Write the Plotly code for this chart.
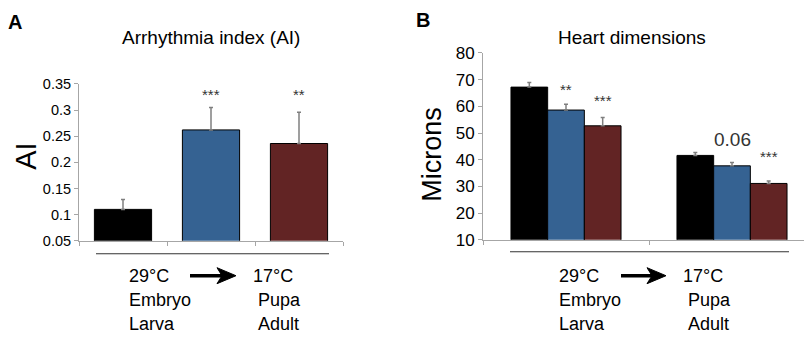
import plotly.graph_objects as go

# ---------------- data ----------------
ai_groups = ["Control", "29-17 A", "29-17 B"]
ai_values = [0.110, 0.262, 0.236]
ai_errors = [0.019, 0.043, 0.060]
ai_stars = ["", "***", "**"]

hd_stages = ["Group 1", "Group 2"]
hd_black = [67.2, 41.6]
hd_black_err = [1.7, 1.1]
hd_blue = [58.6, 37.7]
hd_blue_err = [2.2, 1.2]
hd_red = [52.7, 31.1]
hd_red_err = [3.1, 0.9]
hd_blue_labels = ["**", "0.06"]
hd_red_labels = ["***", "***"]

ai_ticks = [0.05, 0.1, 0.15, 0.2, 0.25, 0.3, 0.35]
ai_ticklabels = ["0.05", "0.1", "0.15", "0.2", "0.25", "0.3", "0.35"]
hd_ticks = [10, 20, 30, 40, 50, 60, 70, 80]

BLACK = "#000000"
BLUE = "#356292"
RED = "#622424"
AXIS = "#a6a6a6"
ERR = "#7f7f7f"
FONT = "Liberation Sans, Arial, sans-serif"

W, H = 804, 339


def px(x):
    return x / W


def py(y):
    ys = (y - 9) / 0.945
    return 1 - ys / H


fig = go.Figure()

bgA = 0.35
bgB = 0.337

# Panel A
fig.add_trace(go.Bar(
    x=list(range(len(ai_values))), y=ai_values, width=1 - bgA,
    marker=dict(color=[BLACK, BLUE, RED], line=dict(color="#000000", width=1)),
    error_y=dict(type="data", array=ai_errors, arrayminus=[0] * 3, symmetric=False,
                 color=ERR, thickness=1.5, width=2),
    xaxis="x", yaxis="y", showlegend=False, hoverinfo="skip"))

# Panel B
for vals, errs, col in [(hd_black, hd_black_err, BLACK), (hd_blue, hd_blue_err, BLUE),
                        (hd_red, hd_red_err, RED)]:
    fig.add_trace(go.Bar(
        x=list(range(len(vals))), y=vals,
        marker=dict(color=col, line=dict(color="#000000", width=1)),
        error_y=dict(type="data", array=errs, arrayminus=[0] * len(errs), symmetric=False,
                     color=ERR, thickness=1.5, width=2),
        xaxis="x2", yaxis="y2", showlegend=False, hoverinfo="skip"))

axis_common = dict(showgrid=False, zeroline=False, showline=True, linecolor=AXIS, linewidth=1,
                   ticks="outside", tickcolor=AXIS, ticklen=4, tickwidth=1)

fig.update_layout(
    width=W, height=H, autosize=False,
    margin=dict(l=0, r=0, t=0, b=0),
    paper_bgcolor="white", plot_bgcolor="white",
    bargap=bgB, barmode="group",
    font=dict(family=FONT, color="#000000"),
    xaxis=dict(domain=[px(79), px(343)], range=[-0.5, 2.5], tickmode="array",
               tickvals=[-0.5, 0.5, 1.5, 2.5], showticklabels=False, anchor="y", **axis_common),
    yaxis=dict(domain=[py(241), py(84)], range=[0.05, 0.35], tickmode="array",
               tickvals=ai_ticks, ticktext=ai_ticklabels, anchor="x",
               tickfont=dict(size=14.5, color="#000000"), **axis_common),
    xaxis2=dict(domain=[px(483), 1.0], range=[-0.5, -0.5 + (W - 483) / 166.0], tickmode="array",
                tickvals=[-0.5, 0.5, 1.5], showticklabels=False, anchor="y2", **axis_common),
    yaxis2=dict(domain=[py(240), py(53)], range=[10, 80], tickmode="array",
                tickvals=hd_ticks, anchor="x2",
                tickfont=dict(size=17, color="#000000"), **axis_common),
)

annotations = []
# stars panel A
for i, s in enumerate(ai_stars):
    if s:
        annotations.append(dict(x=i, y=0.33, xref="x", yref="y", text=s, showarrow=False,
                                font=dict(size=15, color="#333333"), yanchor="middle"))
# labels panel B
bw = (1 - bgB) / 3
hd_blue_y = [66.3, 47.4]
hd_red_y = [62.2, 41.3]
for i, s in enumerate(hd_blue_labels):
    fs = 15 if s.startswith("*") else 19
    annotations.append(dict(x=i, y=hd_blue_y[i], xref="x2", yref="y2", text=s, showarrow=False,
                            font=dict(size=fs, color="#333333"), yanchor="middle"))
for i, s in enumerate(hd_red_labels):
    annotations.append(dict(x=i + bw, y=hd_red_y[i], xref="x2", yref="y2", text=s, showarrow=False,
                            font=dict(size=15, color="#333333"), yanchor="middle"))

# titles, panel letters, axis titles
hdr = [
    dict(x=px(211), y=py(38), text="Arrhythmia index (AI)", font=dict(size=19)),
    dict(x=px(632), y=py(38), text="Heart dimensions", font=dict(size=19)),
    dict(x=px(15), y=py(22), text="<b>A</b>", font=dict(size=20)),
    dict(x=px(423), y=py(20), text="<b>B</b>", font=dict(size=20)),
    dict(x=px(26), y=py(157), text="AI", textangle=-90, font=dict(size=29)),
    dict(x=px(432), y=py(155), text="Microns", textangle=-90, font=dict(size=27)),
]
for a in hdr:
    a.update(xref="paper", yref="paper", showarrow=False, xanchor="center", yanchor="middle")
annotations += hdr

# bottom legend text
bottom = []
for x0, x1 in [(127, 251), (557, 681)]:
    for txt, xx in [("29°C", x0), ("17°C", x1)]:
        bottom.append(dict(x=px(xx), y=py(276), text=txt))
    bottom.append(dict(x=px(x0), y=py(300), text="Embryo"))
    bottom.append(dict(x=px(x1 + 5), y=py(300), text="Pupa"))
    bottom.append(dict(x=px(x0), y=py(324), text="Larva"))
    bottom.append(dict(x=px(x1 + 5), y=py(324), text="Adult"))
for a in bottom:
    a.update(xref="paper", yref="paper", showarrow=False, xanchor="left", yanchor="middle",
             font=dict(size=18))
annotations += bottom

fig.update_layout(annotations=annotations)

# separator lines and arrows (shapes)
shapes = [
    dict(type="line", xref="paper", yref="paper", x0=px(96), x1=px(329), y0=py(254), y1=py(254),
         line=dict(color="#333333", width=1.2)),
    dict(type="line", xref="paper", yref="paper", x0=px(510), x1=px(789), y0=py(252), y1=py(252),
         line=dict(color="#333333", width=1.2)),
]
for xa, xb, yy in [(190, 236, 276), (621, 666, 276)]:
    shapes.append(dict(type="line", xref="paper", yref="paper", x0=px(xa), x1=px(xb - 10),
                       y0=py(yy), y1=py(yy), line=dict(color="#000000", width=3.5)))
    pts = [(xb - 19, yy - 8), (xb, yy), (xb - 19, yy + 8), (xb - 14, yy)]
    path = "M " + " L ".join(f"{px(x):.5f},{py(y):.5f}" for x, y in pts) + " Z"
    shapes.append(dict(type="path", xref="paper", yref="paper", path=path,
                       fillcolor="#000000", line=dict(color="#000000", width=1)))
fig.update_layout(shapes=shapes)

fig.write_html("out.html", config={"displayModeBar": False},
               post_script="document.body.style.margin='0';document.body.style.overflow='hidden';")
